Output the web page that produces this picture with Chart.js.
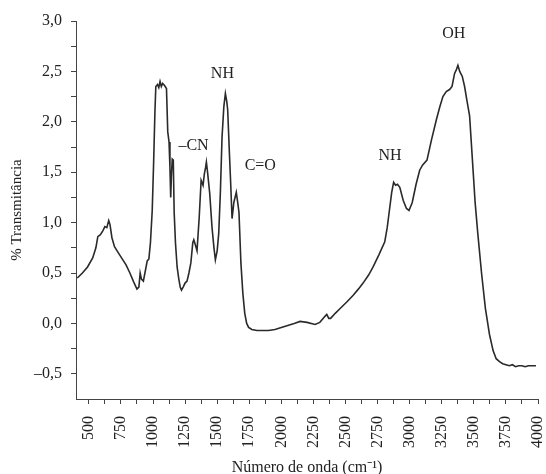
<!DOCTYPE html>
<html>
<head>
<meta charset="utf-8">
<script src="https://cdn.jsdelivr.net/npm/chart.js@4/dist/chart.umd.min.js"></script>
<style>
  html, body { margin: 0; padding: 0; background: #fff; }
  #wrap { width: 546px; height: 474px; }
</style>
</head>
<body>
<div id="wrap"><canvas id="irSpectrum"></canvas></div>
<script>
// FTIR spectrum
const waveNumbers = [
    410, 450, 490, 530, 555, 570, 590, 610, 625, 640, 655, 665, 680, 700, 730, 760, 790, 820, 850, 875,
    890, 900, 910, 925, 940, 955, 968, 980, 994, 1005, 1015, 1022, 1035, 1045, 1055, 1065, 1075, 1090, 1105, 1115,
    1125, 1132, 1138, 1143, 1150, 1158, 1165, 1175, 1188, 1200, 1212, 1222, 1235, 1250, 1265, 1280, 1295, 1310, 1318, 1330,
    1343, 1360, 1375, 1390, 1400, 1410, 1416, 1425, 1442, 1460, 1475, 1486, 1500, 1512, 1525, 1538, 1552, 1564, 1575, 1582,
    1595, 1605, 1616, 1630, 1649, 1660, 1670, 1685, 1700, 1715, 1730, 1745, 1770, 1810, 1850, 1900, 1950, 2000, 2050, 2100,
    2146, 2200, 2263, 2300, 2340, 2354, 2370, 2384, 2420, 2460, 2508, 2560, 2600, 2637, 2680, 2715, 2760, 2806, 2825, 2840,
    2860, 2875, 2890, 2905, 2923, 2950, 2975, 2995, 3020, 3050, 3078, 3100, 3135, 3170, 3208, 3235, 3259, 3285, 3311, 3330,
    3350, 3365, 3376, 3390, 3410, 3428, 3445, 3467, 3490, 3510, 3531, 3560, 3590, 3622, 3650, 3674, 3700, 3725, 3750, 3777,
    3800, 3825, 3850, 3875, 3900, 3925, 3950, 3984
];
const transmittance = [
    0.45, 0.50, 0.56, 0.65, 0.75, 0.86, 0.88, 0.92, 0.96, 0.95, 1.02, 0.98, 0.85, 0.76, 0.70, 0.64, 0.58, 0.50, 0.41, 0.34,
    0.36, 0.50, 0.44, 0.42, 0.52, 0.62, 0.64, 0.80, 1.12, 1.60, 2.10, 2.35, 2.37, 2.34, 2.40, 2.35, 2.38, 2.36, 2.33, 1.90,
    1.80, 1.55, 1.25, 1.45, 1.63, 1.62, 1.10, 0.80, 0.56, 0.45, 0.36, 0.33, 0.36, 0.40, 0.42, 0.50, 0.60, 0.80, 0.83, 0.78,
    0.72, 1.05, 1.42, 1.37, 1.48, 1.55, 1.60, 1.50, 1.29, 0.95, 0.75, 0.63, 0.72, 0.89, 1.30, 1.85, 2.15, 2.28, 2.20, 2.12,
    1.70, 1.40, 1.04, 1.20, 1.30, 1.20, 1.10, 0.60, 0.30, 0.10, 0.00, -0.04, -0.06, -0.07, -0.07, -0.07, -0.06, -0.04, -0.02, 0.00,
    0.02, 0.01, -0.01, 0.01, 0.07, 0.09, 0.05, 0.05, 0.10, 0.15, 0.21, 0.28, 0.34, 0.40, 0.48, 0.56, 0.68, 0.81, 0.95, 1.10,
    1.30, 1.40, 1.37, 1.38, 1.35, 1.22, 1.14, 1.12, 1.20, 1.38, 1.52, 1.57, 1.62, 1.82, 2.02, 2.15, 2.25, 2.30, 2.32, 2.35,
    2.48, 2.52, 2.56, 2.50, 2.45, 2.35, 2.22, 2.06, 1.60, 1.20, 0.89, 0.50, 0.15, -0.11, -0.27, -0.35, -0.38, -0.40, -0.41, -0.42,
    -0.41, -0.43, -0.42, -0.42, -0.43, -0.42, -0.42, -0.42
];

// axis ticks: labelled ones, plus an unlabelled tick halfway between
const xTickLabels = [500, 750, 1000, 1250, 1500, 1750, 2000, 2250, 2500, 2750, 3000, 3250, 3500, 3750, 4000];
const yTickLabels = [-0.5, 0.0, 0.5, 1.0, 1.5, 2.0, 2.5, 3.0];

// band labels written on the plot
const bandNames = ['\u2013CN', 'NH', 'C=O', 'NH', 'OH'];
const bandX = [1316, 1541, 1836, 2847, 3344];
const bandY = [1.76, 2.48, 1.56, 1.66, 2.87];

const SERIF = "'Liberation Serif', 'Times New Roman', serif";
const INK = '#222';
const AXIS = '#444';

function withMinorTicks(labels) {
    const ticks = [];
    labels.forEach((v, i) => {
        ticks.push({ value: v });
        if (i < labels.length - 1) ticks.push({ value: (v + labels[i + 1]) / 2 });
    });
    return ticks;
}

const bandLabels = {
    id: 'bandLabels',
    afterDatasetsDraw(chart) {
        const { ctx, scales: { x, y } } = chart;
        ctx.save();
        ctx.font = '16px ' + SERIF;
        ctx.fillStyle = INK;
        ctx.textAlign = 'center';
        ctx.textBaseline = 'middle';
        bandNames.forEach((name, i) => {
            ctx.fillText(name, x.getPixelForValue(bandX[i]), y.getPixelForValue(bandY[i]));
        });
        ctx.restore();
    }
};

function fmtComma(v) {
    return v.toFixed(1).replace('.', ',').replace('-', '\u2013');
}

document.addEventListener('DOMContentLoaded', () => {
    Chart.defaults.font.family = SERIF;
    Chart.defaults.color = INK;

    const ctx = document.getElementById('irSpectrum').getContext('2d');
    new Chart(ctx, {
        type: 'line',
        data: {
            datasets: [{
                data: waveNumbers.map((w, i) => ({ x: w, y: transmittance[i] })),
                borderColor: '#2a2a2a',
                borderWidth: 1.6,
                pointRadius: 0,
                tension: 0,
                fill: false
            }]
        },
        options: {
            responsive: true,
            maintainAspectRatio: false,
            animation: false,
            layout: { padding: { top: 21, right: 8, left: 0, bottom: 0 } },
            plugins: {
                legend: { display: false },
                tooltip: { enabled: false }
            },
            scales: {
                x: {
                    type: 'linear',
                    min: 400,
                    max: 4000,
                    afterBuildTicks: (axis) => { axis.ticks = withMinorTicks(xTickLabels); },
                    afterFit: (scale) => {
                        scale.height = 75;
                        scale.paddingLeft = 0;
                        scale.paddingRight = 0;
                    },
                    ticks: {
                        autoSkip: false,
                        minRotation: 90,
                        maxRotation: 90,
                        padding: 12,
                        font: { size: 16 },
                        callback: (v) => (xTickLabels.includes(v) ? String(v) : '')
                    },
                    grid: { drawOnChartArea: false, drawTicks: true, tickLength: 5, color: AXIS },
                    border: { display: true, color: AXIS, width: 1 },
                    title: {
                        display: true,
                        text: 'N\u00famero de onda (cm\u207b\u00b9)',
                        font: { size: 16 },
                        padding: { top: 0, bottom: -3 }
                    }
                },
                y: {
                    min: -0.75,
                    max: 3.0,
                    afterBuildTicks: (axis) => { axis.ticks = withMinorTicks(yTickLabels); },
                    afterFit: (scale) => { scale.width = 76; },
                    ticks: {
                        padding: 9,
                        font: { size: 16 },
                        callback: (v) => (yTickLabels.includes(v) ? fmtComma(v) : '')
                    },
                    grid: { drawOnChartArea: false, drawTicks: true, tickLength: 5, color: AXIS },
                    border: { display: true, color: AXIS, width: 1 },
                    title: {
                        display: true,
                        text: '% Transmit\u00e2ncia',
                        font: { size: 15 },
                        padding: { top: 8, bottom: 0 }
                    }
                }
            }
        },
        plugins: [bandLabels]
    });
});
</script>
</body>
</html>
